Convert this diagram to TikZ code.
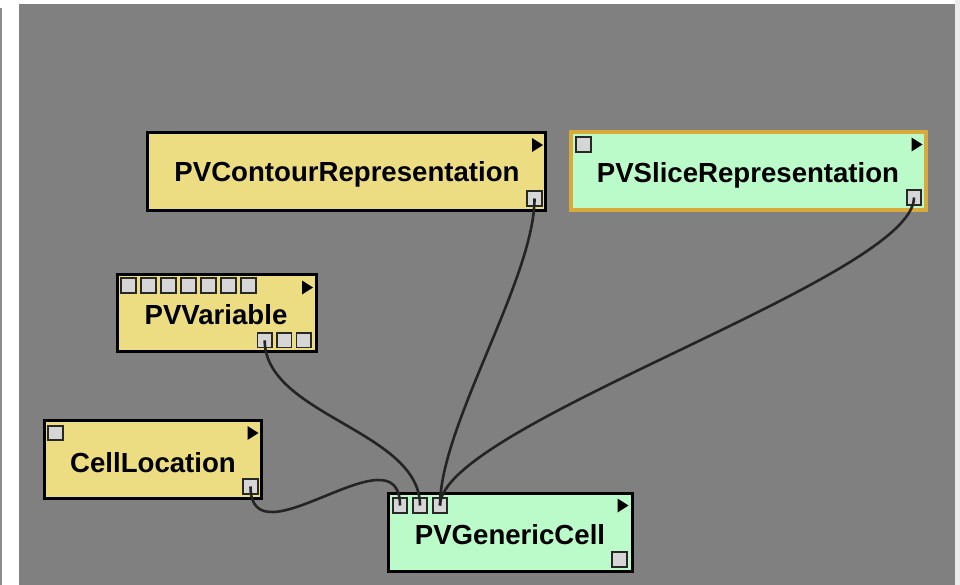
\documentclass[tikz,border=0pt]{standalone}
\usepackage{fontspec}
\setmainfont{Liberation Sans}
\definecolor{yellowfill}{RGB}{236,220,130}
\definecolor{greenfill}{RGB}{187,250,201}
\definecolor{bggray}{RGB}{128,128,128}
\definecolor{portfill}{RGB}{214,214,214}
\definecolor{portedge}{RGB}{40,40,40}
\definecolor{orangeedge}{RGB}{216,170,58}
\definecolor{wirecol}{RGB}{36,36,36}
\tikzset{
  box/.style={draw=black, line width=3.2pt, rectangle, inner sep=0pt, outer sep=0pt},
  yellowbox/.style={box, fill=yellowfill},
  greenbox/.style={box, fill=greenfill},
  selbox/.style={box, fill=greenfill, draw=orangeedge, line width=3.6pt},
  port/.style={draw=portedge, fill=portfill, line width=1.8pt, rectangle, minimum size=14.5pt, inner sep=0pt, outer sep=0pt},
  title/.style={font=\bfseries\fontsize{27.6}{30}\selectfont, anchor=base, inner sep=0pt},
  wire/.style={draw=wirecol, line width=2.6pt},
  tri/.style={fill=black}
}
\newcommand{\mytri}[2]{\fill[tri] (#1,#2) -- ++(0,14) -- ++(11,-7) -- cycle;}
\begin{document}
\begin{tikzpicture}[x=1pt,y=-1pt]
\useasboundingbox (0,0) rectangle (960,585);
\fill[white] (0,0) rectangle (960,585);
\fill[bggray] (19,4) rectangle (955,585);
\fill[black!8] (955,0) rectangle (960,585);
\fill[black!45] (0,8) rectangle (1.5,585);

% boxes
\node[yellowbox, minimum width=398pt, minimum height=78pt] (contour) at (346.5,171.5) {};
\node[selbox, minimum width=355pt, minimum height=78.5pt] (slice) at (748.5,171) {};
\node[yellowbox, minimum width=199pt, minimum height=77pt] (variable) at (217,313) {};
\node[yellowbox, minimum width=217pt, minimum height=78pt] (cellloc) at (153,459.5) {};
\node[greenbox, minimum width=244pt, minimum height=78pt] (generic) at (510.5,532.5) {};

% titles
\node[title] (contourT) at (347,182) {PVContourRepresentation};
\node[title] (sliceT) at (748,183) {PVSliceRepresentation};
\node[title] (variableT) at (216,324) {PVVariable};
\node[title] (celllocT) at (153,472) {CellLocation};
\node[title] (genericT) at (510,544) {PVGenericCell};

% triangles
\mytri{532}{138}
\mytri{911.5}{137.5}
\mytri{302}{280.5}
\mytri{247.5}{426}
\mytri{617.5}{498.5}

% ports
\node[port] (contour-out) at (534.5,198.5) {};
\node[port] (slice-in) at (583.5,144.5) {};
\node[port] (slice-out) at (914,197.5) {};
\foreach \k in {0,...,6} {
  \node[port] (variable-in\k) at (128.5+20*\k,285.5) {};
}
\node[port] (variable-out1) at (264.7,340.3) {};
\node[port] (variable-out2) at (284.2,340.3) {};
\node[port] (variable-out3) at (303.7,340.3) {};
\node[port] (cellloc-in) at (55.5,433) {};
\node[port] (cellloc-out) at (250.5,486.5) {};
\node[port] (generic-in1) at (400,505.5) {};
\node[port] (generic-in2) at (420,505.5) {};
\node[port] (generic-in3) at (440,505.5) {};
\node[port] (generic-out) at (619.5,559.5) {};

% connectors
\draw[wire] (cellloc-out.center) .. controls +(0,80) and +(0,-80) .. (generic-in1.center);
\draw[wire] (variable-out1.center) .. controls +(0,75) and +(0,-75) .. (generic-in2.center);
\draw[wire] (contour-out.center) .. controls +(0,80) and +(0,-80) .. (generic-in3.center);
\draw[wire] (slice-out.center) .. controls +(0,80) and +(0,-80) .. (generic-in3.center);
\end{tikzpicture}
\end{document}
